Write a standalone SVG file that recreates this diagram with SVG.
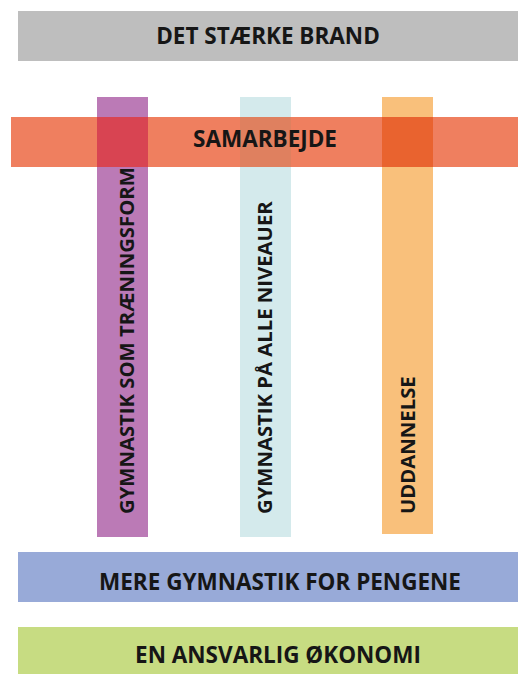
<svg xmlns="http://www.w3.org/2000/svg" width="518" height="674" viewBox="0 0 518 674">
<style>
  .lbl { font-family: "Open Sans", "Liberation Sans", sans-serif; font-weight: 700; fill: #161616; }
  .h { font-size: 22.5px; text-anchor: middle; }
  .v { font-size: 20.3px; text-anchor: start; }
</style>
<rect width="518" height="674" fill="#ffffff"/>
<g id="brand">
  <rect x="18" y="11" width="500" height="50" fill="#bebebe"/>
  <text class="lbl h" x="268" y="44">DET STÆRKE BRAND</text>
</g>
<g id="col-traening">
  <rect x="97" y="97" width="51" height="440" fill="#bb7ab6"/>
  <text class="lbl v" transform="translate(134 514) rotate(-90)">GYMNASTIK SOM TRÆNINGSFORM</text>
</g>
<g id="col-niveauer">
  <rect x="240" y="97" width="51" height="440" fill="#d4eaec"/>
  <text class="lbl v" transform="translate(272 514) rotate(-90)">GYMNASTIK PÅ ALLE NIVEAUER</text>
</g>
<g id="col-uddannelse">
  <rect x="382" y="97" width="51" height="437" fill="#f9c07b"/>
  <text class="lbl v" transform="translate(415 514) rotate(-90)">UDDANNELSE</text>
</g>
<g id="samarbejde">
  <rect x="11" y="117" width="507" height="50" fill="#ef7f5f"/>
  <rect x="97" y="117" width="51" height="50" fill="#d84452"/>
  <rect x="240" y="117" width="51" height="50" fill="#df805f"/>
  <rect x="382" y="117" width="51" height="50" fill="#e9632f"/>
  <text class="lbl h" x="265" y="147">SAMARBEJDE</text>
</g>
<g id="pengene">
  <rect x="18" y="552" width="500" height="50" fill="#98aad8"/>
  <text class="lbl h" x="280" y="590">MERE GYMNASTIK FOR PENGENE</text>
</g>
<g id="oekonomi">
  <rect x="18" y="627" width="500" height="47" fill="#c7dc82"/>
  <text class="lbl h" x="278" y="663">EN ANSVARLIG ØKONOMI</text>
</g>
</svg>
